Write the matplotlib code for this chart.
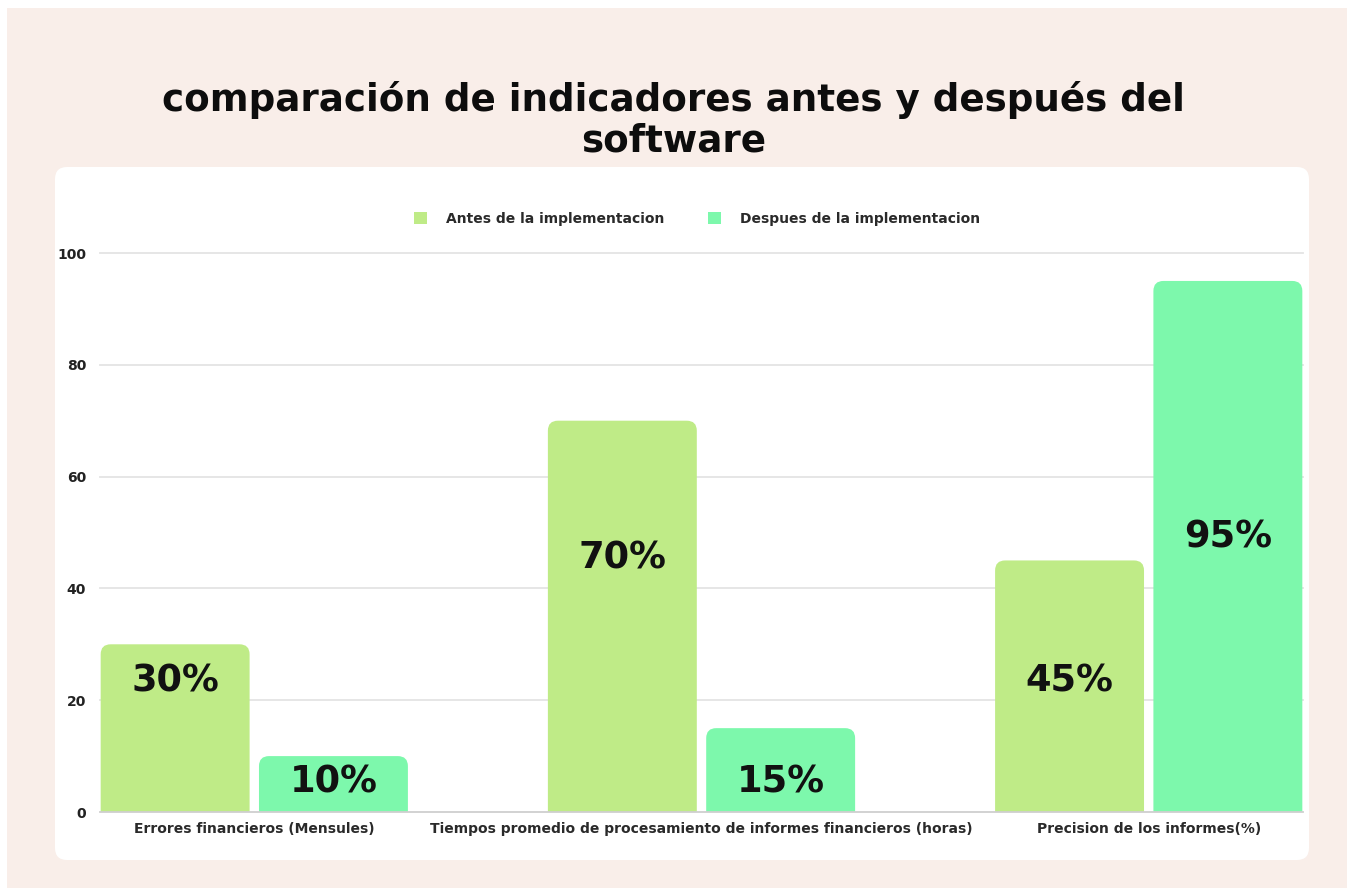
import matplotlib
matplotlib.use('Agg')
import matplotlib.pyplot as plt
from matplotlib.patches import FancyBboxPatch, Rectangle
import numpy as np

categories = ['Errores financieros (Mensules)',
              'Tiempos promedio de procesamiento de informes financieros (horas)',
              'Precision de los informes(%)']
antes = [30, 70, 45]
despues = [10, 15, 95]
series_names = ['Antes de la implementacion', 'Despues de la implementacion']
title = 'comparación de indicadores antes y después del\nsoftware'

# where the value labels sit inside the bars (data units)
label_y_antes = [23.4, 45.4, 23.4]
label_y_despues = [5.4, 5.4, 49.2]

c_antes = '#bfeb87'
c_despues = '#7df8ac'
bg = '#f9eee9'
font = 'DejaVu Sans'

W, H = 1347, 888
fig = plt.figure(figsize=(W / 100, H / 100), dpi=100)
fig.patch.set_facecolor('white')

# peach background
fig.patches.append(Rectangle((7 / W, 0), 1 - 7 / W, 1 - 8 / H, transform=fig.transFigure,
                             facecolor=bg, edgecolor='none', zorder=-10))
# white rounded panel
px0, px1, py0, py1 = 55, 1309, 167, 860
fig.patches.append(FancyBboxPatch((px0 / W, 1 - py1 / H), (px1 - px0) / W, (py1 - py0) / H,
                                  boxstyle='round,pad=0,rounding_size=0.009',
                                  mutation_aspect=W / H,
                                  transform=fig.transFigure, facecolor='white',
                                  edgecolor='none', zorder=-5))

fig.text(0.5, 1 - 120 / H, title, ha='center', va='center', fontsize=26.8,
         fontweight='bold', family=font, color='#0d0d0d', linespacing=1.12)

ax = fig.add_axes([100 / W, 1 - 812 / H, 1203 / W, (812 - 253) / H])
ax.set_facecolor('none')
xmin, xmax = -0.345, 2.345
ymin, ymax = 0, 100
ax.set_xlim(xmin, xmax)
ax.set_ylim(ymin, ymax)

x = np.arange(len(categories))
bw = 0.333
off = 0.177

# rounded top corners: radius ~10px
px_per_x = 1203 / (xmax - xmin)
px_per_y = (812 - 253) / (ymax - ymin)
r = 10 / px_per_x
aspect = px_per_x / px_per_y


def rbar(xc, v, color):
    p = FancyBboxPatch((xc - bw / 2, -5), bw, v + 5,
                       boxstyle='round,pad=0,rounding_size=%f' % r,
                       mutation_aspect=aspect, facecolor=color, edgecolor='none', zorder=3)
    ax.add_patch(p)


for i in range(len(categories)):
    rbar(x[i] - off, antes[i], c_antes)
    rbar(x[i] + off, despues[i], c_despues)
    ax.text(x[i] - off, label_y_antes[i], '%d%%' % antes[i], ha='center', va='center',
            fontsize=26.5, fontweight='bold', family=font, color='#111111', zorder=4)
    ax.text(x[i] + off, label_y_despues[i], '%d%%' % despues[i], ha='center', va='center',
            fontsize=26.5, fontweight='bold', family=font, color='#111111', zorder=4)

for s in ax.spines.values():
    s.set_visible(False)
ax.set_yticks([0, 20, 40, 60, 80, 100])
for t in [20, 40, 60, 80, 100]:
    ax.axhline(t, color='#e4e4e4', linewidth=1.3, zorder=1, clip_on=False)
ax.axhline(0, color='#cfcfcf', linewidth=1.3, zorder=4, clip_on=False)
ax.tick_params(axis='y', length=0, pad=10, labelsize=10)
ax.tick_params(axis='x', length=0, pad=7, labelsize=10)
for lab in ax.get_yticklabels():
    lab.set_fontweight('bold')
    lab.set_family(font)
    lab.set_color('#222222')
ax.set_xticks(x)
ax.set_xticklabels(categories, family=font, fontweight='bold', color='#2a2a2a')

h1 = Rectangle((0, 0), 1, 1, facecolor=c_antes)
h2 = Rectangle((0, 0), 1, 1, facecolor=c_despues)
fig.legend([h1, h2], series_names, loc='center', bbox_to_anchor=(0.5175, 1 - 219 / H),
           ncol=2, frameon=False, handlelength=0.95, handleheight=0.95, handletextpad=1.4,
           columnspacing=3.1, prop={'family': font, 'weight': 'bold', 'size': 10},
           labelcolor='#2a2a2a')

fig.savefig('out.png', dpi=100)
